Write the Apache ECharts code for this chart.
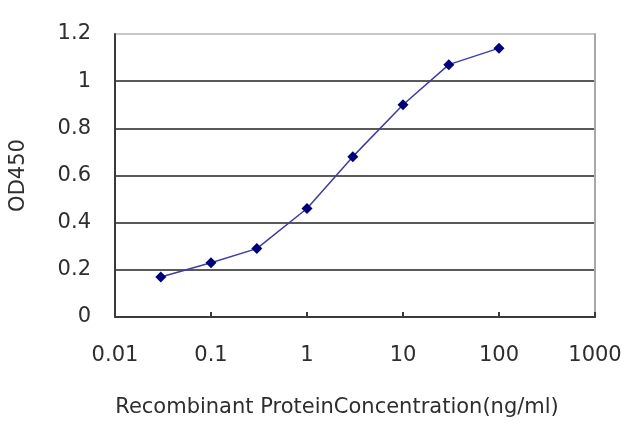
<!DOCTYPE html>
<html>
<head>
<meta charset="utf-8">
<script src="https://cdn.jsdelivr.net/npm/echarts@6/dist/echarts.min.js"></script>
<style>
  html, body { margin: 0; padding: 0; background: #fff; }
  #main { width: 640px; height: 427px; }
</style>
</head>
<body>
<div id="main"></div>
<script>
// 浓度 (ng/ml) 和 OD450 读数
var concentrations = [0.03, 0.1, 0.3, 1, 3, 10, 30, 100]
var odValues = [0.17, 0.23, 0.29, 0.46, 0.68, 0.90, 1.07, 1.14]
var yTicks = [0, 0.2, 0.4, 0.6, 0.8, 1, 1.2]

var points = concentrations.map(function (c, i) {
    return [c, odValues[i]]
})

var chart = echarts.init(document.getElementById('main'))

var labelFont = {
    fontFamily: '"DejaVu Sans", sans-serif',
    fontSize: 21,
    color: '#2e2e2e'
}

// 网格线: 顶部那条浅一些
var gridColors = yTicks.map(function (v, i) {
    return i === yTicks.length - 1 ? '#c8c8c8' : '#5a5a5a'
})

option = {
    backgroundColor: '#fff',
    animation: false,
    grid: {
        left: 113,
        right: 45,
        top: 34,
        bottom: 110
    },
    xAxis: {
        type: 'log',
        logBase: 10,
        min: 0.01,
        max: 1000,
        name: 'Recombinant ProteinConcentration(ng/ml)',
        nameLocation: 'middle',
        nameGap: 80,
        nameTextStyle: {
            fontFamily: '"DejaVu Sans", sans-serif',
            fontSize: 21,
            color: '#2e2e2e',
            padding: [0, 36, 0, 0]
        },
        axisLine: {
            show: true,
            lineStyle: { color: '#3a3a3a', width: 2 }
        },
        axisTick: {
            show: true,
            inside: true,
            length: 5,
            lineStyle: { color: '#3a3a3a', width: 2 }
        },
        minorTick: { show: false },
        axisLabel: Object.assign({
            margin: 28,
            formatter: function (v) { return String(v) }
        }, labelFont),
        splitLine: { show: false }
    },
    yAxis: [{
        type: 'value',
        min: 0,
        max: 1.2,
        interval: 0.2,
        name: 'OD450',
        nameLocation: 'middle',
        nameGap: 86,
        nameTextStyle: {
            fontFamily: '"DejaVu Sans", sans-serif',
            fontSize: 21,
            color: '#2e2e2e'
        },
        axisLine: {
            show: true,
            lineStyle: { color: '#3a3a3a', width: 2 }
        },
        axisTick: { show: false },
        axisLabel: Object.assign({ margin: 24 }, labelFont),
        splitLine: {
            show: true,
            lineStyle: { color: gridColors, width: 2 }
        }
    }, {
        // 右边框
        type: 'value',
        position: 'right',
        min: 0,
        max: 1.2,
        interval: 0.2,
        axisLine: {
            show: true,
            lineStyle: { color: '#a8a8a8', width: 2 }
        },
        axisTick: { show: false },
        axisLabel: { show: false },
        splitLine: { show: false }
    }],
    series: [{
        type: 'line',
        data: points,
        symbol: 'diamond',
        symbolSize: 11,
        itemStyle: { color: '#00007a' },
        lineStyle: { color: '#3c3ca6', width: 1.5 },
        smooth: false
    }]
}

chart.setOption(option)
</script>
</body>
</html>
